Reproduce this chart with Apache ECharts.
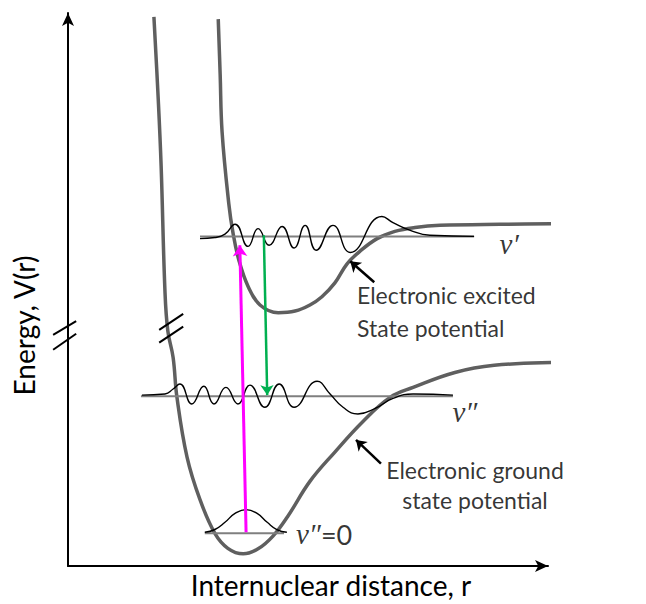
<!DOCTYPE html>
<html>
<head>
<meta charset="utf-8">
<script src="https://cdn.jsdelivr.net/npm/echarts@6/dist/echarts.min.js"></script>
<style>html,body{margin:0;padding:0;background:#fff}#c{width:646px;height:604px}</style>
</head>
<body>
<div id="c"></div>
<script>
// Data in schematic units: r (internuclear distance, 0-10), V (energy, 0-10)
const groundCurve = [[1.79,9.93],[1.88,8.44],[1.94,7.24],[2.02,4.97],[2.08,4.25],[2.19,3.77],[2.27,3.05],[2.48,1.97],[2.75,1.20],[3.06,0.59],[3.33,0.32],[3.65,0.22],[3.96,0.31],[4.27,0.54],[4.58,0.90],[5.04,1.53],[5.56,2.06],[6.13,2.60],[6.71,3.05],[7.19,3.23],[8.06,3.50],[8.88,3.63],[10.17,3.68],[12.04,3.70]];
const excitedCurve = [[3.13,9.89],[3.17,8.89],[3.21,7.85],[3.35,6.55],[3.44,6.01],[3.56,5.53],[3.75,5.06],[4.00,4.72],[4.38,4.58],[4.73,4.61],[5.04,4.72],[5.29,4.87],[5.56,5.12],[5.81,5.46],[6.08,5.69],[6.44,5.92],[6.81,6.05],[7.23,6.12],[7.75,6.16],[9.00,6.18],[10.60,6.19]];
const levelV1 = [[2.75,5.96],[8.46,5.96]];
const levelV2 = [[1.52,3.07],[8.02,3.07]];
const levelV0 = [[2.85,0.59],[4.50,0.59]];
const waveV1 = [[2.75,5.92],[3.06,5.94],[3.27,6.00],[3.48,6.18],[3.75,5.78],[3.96,6.10],[4.19,5.80],[4.46,6.14],[4.71,5.75],[4.94,6.16],[5.17,5.71],[5.52,6.16],[5.88,5.67],[6.54,6.32],[6.77,6.21],[7.13,6.07],[7.54,5.98],[8.46,5.96]];
const waveV2 = [[1.54,3.09],[2.02,3.11],[2.19,3.20],[2.33,3.29],[2.58,2.93],[2.83,3.25],[3.04,2.93],[3.29,3.23],[3.54,2.93],[3.79,3.27],[4.10,2.87],[4.40,3.29],[4.71,2.87],[5.19,3.34],[5.46,3.11],[5.73,2.87],[6.04,2.75],[6.40,2.85],[6.77,3.03],[7.19,3.11],[8.02,3.09]];
const waveV0 = [[2.85,0.61],[3.06,0.66],[3.27,0.79],[3.48,0.95],[3.71,1.02],[3.94,0.95],[4.15,0.79],[4.35,0.66],[4.56,0.61]];
const absorption = [[3.71,0.61],[3.58,5.80]];
const emission = [[4.08,5.98],[4.15,3.09]];
const pointerExcited = [[6.38,5.13],[5.88,5.51]];
const pointerGround = [[6.52,1.85],[6.00,2.28]];
const axisBreak = [[[-0.31,4.18],[0.17,4.43]],[[-0.31,3.91],[0.17,4.20]]];
const curveBreak = [[[1.90,4.27],[2.40,4.56]],[[1.90,4.04],[2.40,4.33]]];
const labelTexts = ['Electronic excited','State potential','Electronic ground','state potential','v\u2032','v\u2033','v\u2033','=0'];

const FONT = 'Lato';
const chart = echarts.init(document.getElementById('c'), null, {renderer:'svg'});

function line(data, color, width, smooth, z){
  return {type:'line', data, showSymbol:false, symbol:'none', clip:false, smooth, z:z||2,
    lineStyle:{color, width}, silent:true, animation:false};
}
function arrow(coords, color, width, size){
  return {type:'lines', coordinateSystem:'cartesian2d', clip:false, silent:true, animation:false, z:5,
    symbol:['none','arrow'], symbolSize:size,
    lineStyle:{color, width, opacity:1},
    data:[{coords}]};
}
function seg(list, color, width){
  return {type:'lines', coordinateSystem:'cartesian2d', clip:false, silent:true, animation:false, z:6,
    lineStyle:{color, width, opacity:1},
    data:list.map(c=>({coords:c}))};
}
const textStyle = {fontFamily:FONT, fontSize:23, color:'#000'};
const vStyle = {fontFamily:'Liberation Serif', fontStyle:'italic', fontSize:29, color:'#000'};
const labelSeries = {
  type:'scatter', symbolSize:0, clip:false, silent:true, animation:false, z:7,
  data:[
    {value:[6.02,4.90], label:{show:true, formatter:labelTexts[0], position:'inside', align:'left', ...textStyle}},
    {value:[6.02,4.31], label:{show:true, formatter:labelTexts[1], position:'inside', align:'left', ...textStyle}},
    {value:[8.48,1.74], label:{show:true, formatter:labelTexts[2], position:'inside', align:'center', ...textStyle}},
    {value:[8.48,1.20], label:{show:true, formatter:labelTexts[3], position:'inside', align:'center', ...textStyle}},
    {value:[9.19,5.82], label:{show:true, formatter:labelTexts[4], position:'inside', align:'center', ...vStyle}},
    {value:[8.27,2.78], label:{show:true, formatter:labelTexts[5], position:'inside', align:'center', ...vStyle}},
    {value:[4.75,0.57], label:{show:true, formatter:'{v|'+labelTexts[6]+'}{n|'+labelTexts[7]+'}', position:'inside', align:'left',
      rich:{v:{...vStyle}, n:{fontFamily:FONT, fontSize:27, color:'#000'}}}}
  ]
};

const option = {
  backgroundColor:'#fff',
  animation:false,
  grid:{left:68, right:98, top:13, bottom:34},
  xAxis:{type:'value', min:0, max:10, name:'Internuclear distance, r', nameLocation:'middle', nameGap:5,
    nameTextStyle:{fontFamily:FONT, fontSize:28, color:'#000', padding:[0,0,0,46], verticalAlign:'top'},
    axisLine:{show:true, onZero:false, symbol:['none','arrow'], symbolSize:[9,13], lineStyle:{color:'#000', width:2}},
    axisTick:{show:false}, axisLabel:{show:false}, splitLine:{show:false}},
  yAxis:{type:'value', min:0, max:10, name:'Energy, V(r)', nameLocation:'middle', nameGap:30, nameRotate:90,
    nameTextStyle:{fontFamily:FONT, fontSize:28, color:'#000', padding:[0,72,0,0]},
    axisLine:{show:true, onZero:false, symbol:['none','arrow'], symbolSize:[9,13], lineStyle:{color:'#000', width:2}},
    axisTick:{show:false}, axisLabel:{show:false}, splitLine:{show:false}},
  series:[
    line(groundCurve, '#5f5f5f', 3.5, 0.4, 2),
    line(excitedCurve, '#5f5f5f', 3.5, 0.4, 2),
    line(levelV1, '#7f7f7f', 2, false, 3),
    line(levelV2, '#7f7f7f', 2, false, 3),
    line(levelV0, '#7f7f7f', 2, false, 3),
    line(waveV1, '#000', 1.4, 0.5, 4),
    line(waveV2, '#000', 1.4, 0.5, 4),
    line(waveV0, '#000', 1.4, 0.5, 4),
    arrow(absorption, '#ff00ff', 3, [0,11]),
    arrow(emission, '#00b050', 2.5, [0,10]),
    arrow(pointerExcited, '#000', 2.5, [0,10]),
    arrow(pointerGround, '#000', 2.5, [0,10]),
    seg(axisBreak, '#000', 2),
    seg(curveBreak, '#000', 2),
    labelSeries
  ]
};
chart.setOption(option);
</script>
</body>
</html>
